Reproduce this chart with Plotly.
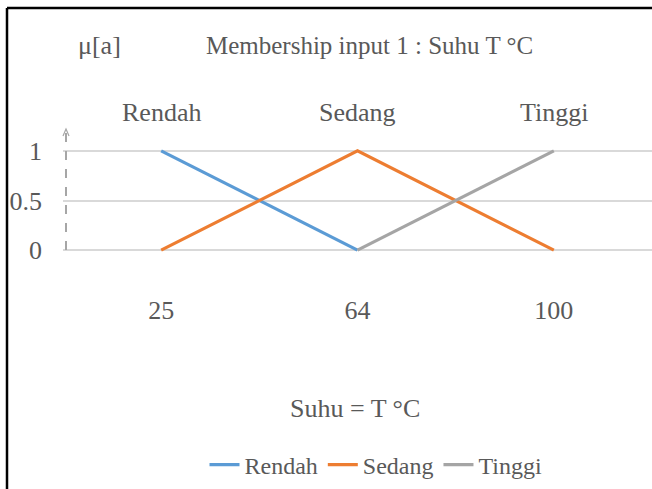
import plotly.graph_objects as go

categories = ["25", "64", "100"]
rendah = [1, 0, None]
sedang = [0, 1, 0]
tinggi = [None, 0, 1]
series_names = ["Rendah", "Sedang", "Tinggi"]
series_colors = ["#5B9BD5", "#ED7D31", "#A5A5A5"]
y_ticks = [0, 0.5, 1]
y_ticktext = ["0", "0.5", "1"]

FONT = "Liberation Serif"
TXT = "#595959"

W, H = 652, 489
L, R, T, B = 63, 0, 131, 219
pw = W - L - R
ph = H - T - B

def px2x(px):
    return (px - L) / pw

def px2y(py):
    return (H - B - py) / ph

fig = go.Figure()
for name, vals, col in zip(series_names, [rendah, sedang, tinggi], series_colors):
    fig.add_trace(go.Scatter(x=categories, y=vals, mode="lines", name=name,
                             line=dict(color=col, width=3.2), connectgaps=False))

fig.update_layout(
    width=W, height=H,
    margin=dict(l=L, r=R, t=T, b=B, pad=0),
    paper_bgcolor="white", plot_bgcolor="white",
    font=dict(family=FONT, color=TXT, size=25),
    showlegend=True,
    legend=dict(orientation="h", x=px2x(376), xanchor="center", y=px2y(465), yanchor="middle",
                font=dict(family=FONT, size=24, color=TXT), itemwidth=30,
                tracegroupgap=0, bgcolor="rgba(0,0,0,0)"),
    xaxis=dict(type="category", categoryorder="array", categoryarray=categories,
               range=[-0.5, 2.5], showgrid=False, zeroline=False, showline=False,
               ticks="", tickfont=dict(family=FONT, size=26, color=TXT),
               ticklabelstandoff=22),
    yaxis=dict(range=[-0.2, 1.2], tickvals=y_ticks, ticktext=y_ticktext,
               showgrid=True, gridcolor="#D9D9D9", gridwidth=1.5, zeroline=False,
               showline=False, ticks="", tickfont=dict(family=FONT, size=26, color=TXT),
               ticklabelstandoff=20),
)

# Category labels on top
for i, n in enumerate(series_names):
    fig.add_annotation(x=i, xref="x", y=px2y(112), yref="paper", text=n, showarrow=False,
                       font=dict(family=FONT, size=26, color=TXT), yanchor="middle")

# Title and axis labels
fig.add_annotation(x=px2x(369), xref="paper", y=px2y(45), yref="paper",
                   text="Membership input 1 : Suhu T °C", showarrow=False,
                   font=dict(family=FONT, size=25, color=TXT), yanchor="middle")
fig.add_annotation(x=px2x(76), xref="paper", y=px2y(45), yref="paper",
                   text="μ[a]", showarrow=False,
                   font=dict(family=FONT, size=26, color=TXT), yanchor="middle")
fig.add_annotation(x=px2x(355), xref="paper", y=px2y(408), yref="paper",
                   text="Suhu = T °C", showarrow=False,
                   font=dict(family=FONT, size=26, color=TXT), yanchor="middle")

# dashed y axis with arrowhead
fig.add_shape(type="line", xref="paper", yref="paper", x0=px2x(66), x1=px2x(66),
              y0=px2y(250), y1=px2y(133), line=dict(color="#A6A6A6", width=2, dash="dash"))
fig.add_shape(type="path", xref="paper", yref="paper",
              path="M {} {} L {} {} L {} {}".format(px2x(63), px2y(136), px2x(66), px2y(129),
                                                    px2x(69), px2y(136)),
              line=dict(color="#A6A6A6", width=1.2))

# black border (top and left)
fig.add_shape(type="line", xref="paper", yref="paper", x0=px2x(7), x1=px2x(660),
              y0=px2y(8), y1=px2y(8), line=dict(color="black", width=2.5))
fig.add_shape(type="line", xref="paper", yref="paper", x0=px2x(7), x1=px2x(7),
              y0=px2y(8), y1=px2y(500), line=dict(color="black", width=2.5))

fig.write_html("out.html", config={"displayModeBar": False},
               post_script="document.body.style.margin='0';document.body.style.overflow='hidden';")
